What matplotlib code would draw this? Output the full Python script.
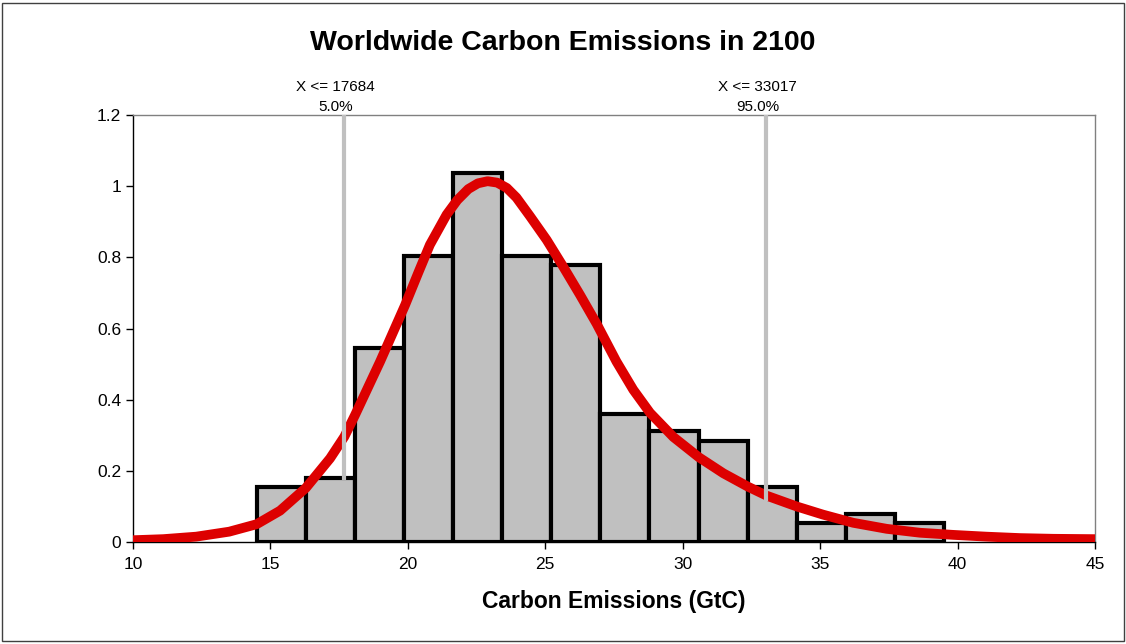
import matplotlib
matplotlib.use("Agg")
import matplotlib.pyplot as plt
from matplotlib.patches import Rectangle
from matplotlib.transforms import blended_transform_factory

plt.rcParams['font.family'] = ['Liberation Sans', 'DejaVu Sans']

# histogram: first bin edge, bin width and bar heights
bin_start = 14.50
bin_width = 1.786
bar_heights = [0.155, 0.179, 0.544, 0.804, 1.036, 0.804, 0.778,
               0.361, 0.311, 0.285, 0.155, 0.052, 0.078, 0.052]

# fitted density curve, read point by point
curve_x = [10.0, 11.1, 12.3, 13.5, 14.5, 15.35, 16.29, 17.17, 17.69, 18.08,
           18.99, 19.90, 20.38, 20.80, 21.41, 21.80, 22.20, 22.55, 22.90,
           23.25, 23.60, 23.95, 24.44, 25.05, 25.65, 26.26, 26.87, 27.59,
           28.20, 28.81, 29.66, 30.59, 31.48, 32.36, 33.06, 34.14, 35.10,
           36.20, 37.42, 38.63, 39.84, 41.05, 42.27, 43.48, 45.0]
curve_y = [0.005, 0.008, 0.015, 0.029, 0.050, 0.088, 0.152, 0.235, 0.296, 0.357,
           0.507, 0.666, 0.757, 0.835, 0.920, 0.961, 0.992, 1.008, 1.014,
           1.010, 0.995, 0.968, 0.916, 0.849, 0.774, 0.695, 0.613, 0.507,
           0.428, 0.363, 0.295, 0.238, 0.193, 0.156, 0.130, 0.100, 0.077,
           0.054, 0.037, 0.026, 0.020, 0.015, 0.011, 0.009, 0.008]

# 5% / 95% markers
pct_x = [17.684, 33.017]
pct_bottom = [0.175, 0.115]
pct_value = ["X <= 17684", "X <= 33017"]
pct_prob = ["5.0%", "95.0%"]

xticks = [10, 15, 20, 25, 30, 35, 40, 45]
yticks = [0, 0.2, 0.4, 0.6, 0.8, 1.0, 1.2]
ytick_labels = ["0", "0.2", "0.4", "0.6", "0.8", "1", "1.2"]

fig = plt.figure(figsize=(11.26, 6.44), dpi=100)
ax = fig.add_axes([0.1181, 0.1584, 0.8544, 0.6630])

lefts = [bin_start + i * bin_width for i in range(len(bar_heights))]
ax.bar(lefts, bar_heights, width=bin_width, align='edge', color='#c0c0c0',
       edgecolor='black', linewidth=3, zorder=2)

ax.plot(curve_x, curve_y, color='#dd0000', linewidth=7,
        solid_joinstyle='round', solid_capstyle='butt', zorder=3)

trans = blended_transform_factory(ax.transData, ax.transAxes)
for x, y0, v, p in zip(pct_x, pct_bottom, pct_value, pct_prob):
    ax.vlines(x, y0, 1.2, color='#c0c0c0', linewidth=3, zorder=4)
    ax.annotate(v, (x, 1.0663), xycoords=trans, xytext=(-6, 0),
                textcoords='offset points', ha='center', va='center',
                fontsize=11, annotation_clip=False)
    ax.annotate(p, (x, 1.0194), xycoords=trans, xytext=(-6, 0),
                textcoords='offset points', ha='center', va='center',
                fontsize=11, annotation_clip=False)

ax.set_xlim(10, 45)
ax.set_ylim(0, 1.2)
ax.set_xticks(xticks)
ax.set_yticks(yticks)
ax.set_yticklabels(ytick_labels)
ax.tick_params(axis='both', labelsize=12.5, direction='out', length=5,
               width=1, color='black')
ax.tick_params(axis='x', pad=6)

for side in ['top', 'right']:
    ax.spines[side].set_color('#808080')
for side in ['left', 'bottom']:
    ax.spines[side].set_color('black')
for s in ax.spines.values():
    s.set_linewidth(1)

ax.set_xlabel("Carbon Emissions (GtC)", fontsize=16.5, fontweight='bold',
              labelpad=13)
fig.text(0.5, 0.934, "Worldwide Carbon Emissions in 2100", ha='center',
         va='center', fontsize=20.5, fontweight='bold')

fig.patches.append(Rectangle((0.002, 0.004), 0.996, 0.992,
                             transform=fig.transFigure, fill=False,
                             edgecolor='#404040', linewidth=1))

fig.savefig("out.png", dpi=100)
